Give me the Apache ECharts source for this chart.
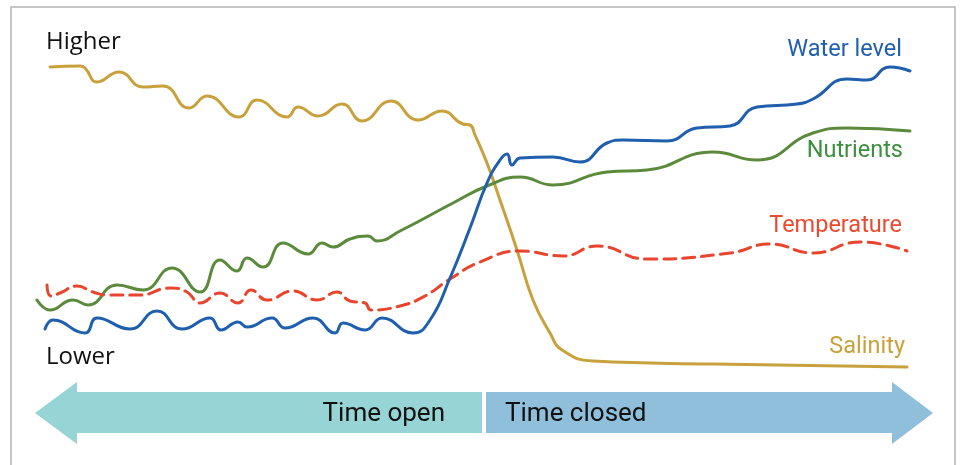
<!DOCTYPE html>
<html>
<head>
<meta charset="utf-8">
<script src="https://cdn.jsdelivr.net/npm/echarts@6/dist/echarts.min.js"></script>
<style>
  html, body { margin: 0; padding: 0; background: #fff; }
  #chart { width: 963px; height: 465px; }
</style>
</head>
<body>
<div id="chart"></div>
<script>
// Conceptual time units (x) and relative level (y)
const salinity = [
  [1.3, 31.3], [4.3, 31.4], [4.8, 31.2], [6.0, 29.8], [8.2, 30.8], [10.6, 29.3], [12.6, 29.4],
  [15.2, 27.2], [17.0, 28.4], [20.2, 26.3], [22.0, 28.0], [25.0, 26.3], [26.1, 27.3],
  [28.1, 26.4], [30.5, 27.6], [32.5, 25.9], [35.4, 27.9], [38.1, 26.0], [40.5, 26.9],
  [42.6, 25.6], [43.3, 25.5], [43.8, 24.5], [45.0, 21.7], [46.3, 18.0], [48.0, 13.0],
  [49.6, 8.0], [51.3, 4.7], [52.5, 3.0], [55.6, 1.9], [67.6, 1.6], [87.0, 1.3]
];
const waterLevel = [
  [0.8, 5.1], [1.6, 6.0], [4.8, 4.7], [6.0, 6.2], [9.3, 5.1], [12.0, 6.9], [14.5, 5.1],
  [17.3, 6.2], [18.4, 5.0], [20.1, 5.8], [21.0, 5.3], [23.5, 6.2], [24.8, 5.2], [27.6, 6.2],
  [29.8, 4.7], [30.6, 5.7], [32.8, 5.0], [34.5, 6.2], [37.6, 4.7], [39.3, 6.0], [41.3, 10.2],
  [43.3, 15.2], [45.0, 19.7], [46.3, 22.0], [47.0, 22.6], [47.5, 21.5], [48.3, 22.2],
  [51.6, 22.3], [54.3, 21.8], [57.0, 23.7], [58.6, 24.0], [63.0, 23.9], [66.0, 25.2],
  [69.3, 25.4], [72.0, 27.3], [76.0, 27.6], [77.6, 28.1], [81.0, 30.1], [83.0, 30.0],
  [85.3, 31.3], [87.3, 30.9]
];
const nutrients = [
  [0, 8.0], [1.3, 7.0], [3.6, 8.0], [5.1, 7.5], [8.0, 9.5], [10.6, 9.0], [13.5, 11.2],
  [16.3, 8.8], [18.3, 12.0], [20.0, 10.9], [21.0, 12.2], [22.6, 11.3], [24.6, 13.7],
  [27.1, 12.6], [28.5, 13.7], [29.6, 13.3], [31.3, 14.1], [33.1, 14.4], [34.0, 13.9],
  [36.3, 14.9], [41.6, 17.7], [45.0, 19.4], [48.3, 20.3], [51.6, 19.5], [57.0, 20.8],
  [61.0, 21.0], [67.6, 22.8], [72.0, 22.0], [77.6, 24.7], [81.0, 25.2], [87.3, 24.9]
];
const temperature = [
  [1.0, 9.5], [1.4, 8.4], [2.3, 8.7], [4.0, 9.4], [5.6, 8.8], [7.0, 8.5], [10.3, 8.5],
  [13.3, 9.2], [15.0, 8.8], [16.3, 7.7], [18.3, 8.7], [20.1, 7.7], [21.4, 9.0], [23.0, 8.0],
  [25.6, 8.9], [28.0, 8.0], [30.0, 8.8], [31.3, 7.9], [32.8, 7.7], [33.4, 7.0], [36.3, 7.4],
  [38.8, 8.4], [41.3, 10.1], [44.3, 11.8], [48.3, 12.9], [52.6, 12.4], [56.0, 13.4],
  [61.0, 12.1], [69.3, 12.7], [73.3, 13.6], [77.6, 12.7], [82.3, 13.8], [87.0, 12.9]
];
const seriesNames = ['Water level', 'Nutrients', 'Temperature', 'Salinity'];
const axisLabels = ['Higher', 'Lower'];
const phaseLabels = ['Time open', 'Time closed'];

const C = { water: '#1f5fae', nut: '#5b8a3c', temp: '#e8452e', sal: '#c9a13c' };

function line(name, data, color, dashed) {
  return {
    name, type: 'line', data, smooth: 0.5, symbol: 'none', silent: true,
    lineStyle: { color, width: 3, type: dashed ? [12, 7] : 'solid', cap: 'round', join: 'round' }
  };
}

const chart = echarts.init(document.getElementById('chart'), null, { renderer: 'canvas' });
chart.setOption({
  animation: false,
  backgroundColor: '#ffffff',
  grid: { left: 37, top: 30, width: 880, height: 350, containLabel: false },
  xAxis: { type: 'value', min: 0, max: 88, show: false },
  yAxis: { type: 'value', min: 0, max: 35, show: false },
  series: [
    line(seriesNames[3], salinity, C.sal, false),
    line(seriesNames[1], nutrients, C.nut, false),
    line(seriesNames[2], temperature, C.temp, true),
    line(seriesNames[0], waterLevel, C.water, false)
  ],
  graphic: [
    { type: 'polyline', silent: true, shape: { points: [[11, 465], [11, 7], [955, 7], [955, 465]] },
      style: { stroke: '#b4b4b4', lineWidth: 1.5, fill: null } },
    { type: 'polygon', silent: true,
      shape: { points: [[35, 413], [77, 382], [77, 392], [482, 392], [482, 433], [77, 433], [77, 444]] },
      style: { fill: '#97d4d5' } },
    { type: 'polygon', silent: true,
      shape: { points: [[486, 392], [892, 392], [892, 382], [933, 413], [892, 444], [892, 433], [486, 433]] },
      style: { fill: '#90bfdc' } },
    { type: 'text', silent: true, style: { x: 46, y: 42, text: axisLabels[0], font: '24px "Open Sans"', fill: '#111', textAlign: 'left', textVerticalAlign: 'middle' } },
    { type: 'text', silent: true, style: { x: 46, y: 357, text: axisLabels[1], font: '24px "Open Sans"', fill: '#111', textAlign: 'left', textVerticalAlign: 'middle' } },
    { type: 'text', silent: true, style: { x: 902, y: 50, text: seriesNames[0], font: '23.5px Roboto', fill: C.water, textAlign: 'right', textVerticalAlign: 'middle' } },
    { type: 'text', silent: true, style: { x: 903, y: 151, text: seriesNames[1], font: '23.5px Roboto', fill: '#3c8f3f', textAlign: 'right', textVerticalAlign: 'middle' } },
    { type: 'text', silent: true, style: { x: 902, y: 226, text: seriesNames[2], font: '23.5px Roboto', fill: '#ea4a2f', textAlign: 'right', textVerticalAlign: 'middle' } },
    { type: 'text', silent: true, style: { x: 905, y: 347, text: seriesNames[3], font: '23.5px Roboto', fill: C.sal, textAlign: 'right', textVerticalAlign: 'middle' } },
    { type: 'text', silent: true, style: { x: 445, y: 414, text: phaseLabels[0], font: '26px Roboto', fill: '#111', textAlign: 'right', textVerticalAlign: 'middle' } },
    { type: 'text', silent: true, style: { x: 505, y: 414, text: phaseLabels[1], font: '26px Roboto', fill: '#111', textAlign: 'left', textVerticalAlign: 'middle' } }
  ]
});
</script>
</body>
</html>
